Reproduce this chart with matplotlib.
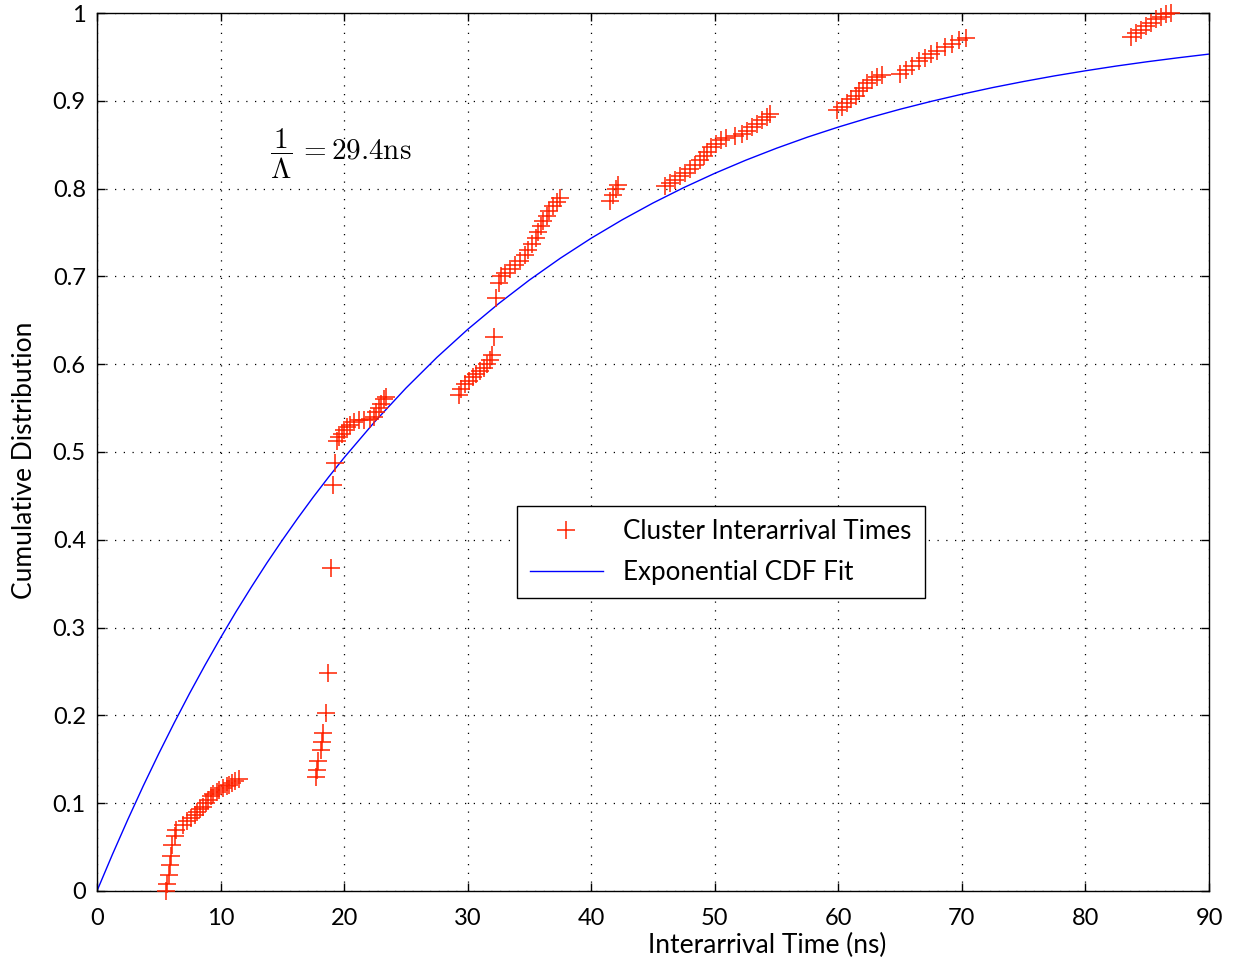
import numpy as np
import matplotlib
matplotlib.use("Agg")
import matplotlib.pyplot as plt

plt.rcParams['font.family'] = ['Lato', 'DejaVu Sans']
plt.rcParams['mathtext.fontset'] = 'cm'

# measured cluster interarrival times (ns) and empirical CDF
t_ns = [5.6, 5.7, 5.8, 5.9, 6.0, 6.1, 6.3, 6.4, 7.0, 7.3, 7.6, 7.9, 8.1, 8.3,
        8.6, 8.8, 9.0, 9.2, 9.4, 9.7, 9.9, 10.2, 10.5, 10.7, 10.9, 11.2, 11.5,
        17.7, 17.8, 17.9, 18.1, 18.2, 18.3, 18.5, 18.7, 18.9, 19.1, 19.3, 19.4,
        19.6, 19.8, 20.0, 20.2, 20.5, 20.8, 21.2, 21.6, 22.1, 22.4, 22.6, 22.8,
        23.0, 23.2, 23.4,
        29.3, 29.5, 29.8, 30.1, 30.4, 30.7, 31.0, 31.3, 31.6, 31.8, 32.0, 32.1,
        32.3, 32.5, 32.7, 33.0, 33.4, 33.8, 34.2, 34.6, 34.9, 35.2, 35.5, 35.7,
        35.9, 36.1, 36.4, 36.6, 36.9, 37.2, 37.5,
        41.5, 41.8, 42.0, 42.2, 46.0, 46.4, 46.8, 47.2, 47.6, 48.0, 48.4, 48.8,
        49.1, 49.4, 49.7, 50.1, 50.5, 50.9, 51.6, 52.2, 52.6, 53.0, 53.4, 53.8,
        54.2, 54.5,
        59.9, 60.3, 60.7, 61.0, 61.4, 61.7, 62.0, 62.3, 62.7, 63.1, 63.5, 65.0,
        65.5, 66.0, 66.5, 67.0, 67.5, 68.0, 68.6, 69.2, 69.8, 70.3,
        83.7, 84.1, 84.5, 84.9, 85.3, 85.7, 86.1, 86.5, 86.9]
cdf = [0.000, 0.008, 0.018, 0.030, 0.040, 0.052, 0.063, 0.070, 0.075, 0.080,
       0.083, 0.087, 0.090, 0.093, 0.096, 0.100, 0.104, 0.108, 0.111, 0.113,
       0.115, 0.117, 0.119, 0.121, 0.123, 0.125, 0.127,
       0.130, 0.138, 0.148, 0.160, 0.170, 0.180, 0.203, 0.248, 0.368, 0.462,
       0.488, 0.512, 0.517, 0.521, 0.525, 0.528, 0.531, 0.534, 0.536, 0.536,
       0.537, 0.540, 0.545, 0.550, 0.555, 0.560, 0.563,
       0.565, 0.572, 0.577, 0.581, 0.585, 0.589, 0.592, 0.596, 0.600, 0.605,
       0.611, 0.631, 0.675, 0.693, 0.700, 0.704, 0.708, 0.713, 0.718, 0.724,
       0.730, 0.737, 0.744, 0.751, 0.757, 0.763, 0.769, 0.775, 0.780, 0.785,
       0.789,
       0.786, 0.793, 0.799, 0.804, 0.803, 0.806, 0.810, 0.814, 0.818, 0.822,
       0.827, 0.832, 0.837, 0.842, 0.847, 0.851, 0.855, 0.858, 0.860, 0.862,
       0.866, 0.870, 0.874, 0.878, 0.882, 0.885,
       0.889, 0.893, 0.897, 0.902, 0.906, 0.911, 0.915, 0.920, 0.924, 0.927,
       0.929, 0.931, 0.935, 0.940, 0.945, 0.949, 0.953, 0.957, 0.961, 0.965,
       0.969, 0.972,
       0.973, 0.977, 0.981, 0.985, 0.989, 0.993, 0.996, 0.999, 1.000]

# exponential CDF fit (1/Lambda = 29.4 ns)
fit_t = [0, 1.25, 2.5, 3.75, 5, 6.25, 7.5, 8.75, 10, 11.25, 12.5, 13.75, 15,
         16.25, 17.5, 18.75, 20, 22.5, 25, 27.5, 30, 32.5, 35, 37.5, 40, 42.5,
         45, 47.5, 50, 52.5, 55, 57.5, 60, 62.5, 65, 67.5, 70, 72.5, 75, 77.5,
         80, 82.5, 85, 87.5, 90]
fit_cdf = [0.0, 0.0416, 0.0815, 0.1198, 0.1564, 0.1915, 0.2252, 0.2574,
           0.2883, 0.3180, 0.3463, 0.3736, 0.3996, 0.4246, 0.4486, 0.4715,
           0.4935, 0.5348, 0.5727, 0.6076, 0.6396, 0.6689, 0.6959, 0.7207,
           0.7435, 0.7644, 0.7836, 0.8012, 0.8174, 0.8323, 0.8460, 0.8586,
           0.8701, 0.8807, 0.8904, 0.8993, 0.9075, 0.9151, 0.9220, 0.9284,
           0.9342, 0.9396, 0.9445, 0.9490, 0.9532]

xticks = [0, 10, 20, 30, 40, 50, 60, 70, 80, 90]
yticks = [0, 0.1, 0.2, 0.3, 0.4, 0.5, 0.6, 0.7, 0.8, 0.9, 1]
ylabels = ['0', '0.1', '0.2', '0.3', '0.4', '0.5', '0.6', '0.7', '0.8', '0.9', '1']

fig = plt.figure(figsize=(12.37, 9.63), dpi=100)
ax = fig.add_axes([0.0784, 0.0748, 0.8990, 0.9117])

ax.plot(t_ns, cdf, '+', color='#ff2200', markersize=13, mew=1.1,
        label='Cluster Interarrival Times', clip_on=False, zorder=3)
ax.plot(fit_t, fit_cdf, '-', color='#0000ff', lw=1.0,
        label='Exponential CDF Fit', zorder=2)

ax.set_xlim(0, 90)
ax.set_ylim(0, 1)
ax.set_xticks(xticks)
ax.set_xticklabels([str(v) for v in xticks])
ax.set_yticks(yticks)
ax.set_yticklabels(ylabels)
ax.tick_params(direction='in', length=6, width=1, top=True, right=True,
               labelsize=17)
ax.tick_params(axis='x', pad=12)
ax.tick_params(axis='y', pad=8)
for s in ax.spines.values():
    s.set_linewidth(1.0)
ax.grid(True, color='black', linestyle=(0, (1, 6)), linewidth=0.9)

ax.set_xlabel('Interarrival Time (ns)', fontsize=19, labelpad=4)
ax.xaxis.set_label_coords(0.603, -0.048)
ax.set_ylabel('Cumulative Distribution', fontsize=19, labelpad=10)
ax.yaxis.set_label_coords(-0.054, 0.49)

ax.text(14.0, 0.84, r'$\dfrac{1}{\Lambda}\,=29.4\mathrm{ns}$', fontsize=21,
        ha='left', va='center')

leg = ax.legend(loc='lower left', bbox_to_anchor=(0.3777, 0.334), fontsize=18.7,
                fancybox=False, framealpha=1, edgecolor='black',
                borderaxespad=0, handlelength=2.8, borderpad=0.5,
                labelspacing=0.6)
leg.get_frame().set_linewidth(1.0)

fig.savefig('out.png', dpi=100)
